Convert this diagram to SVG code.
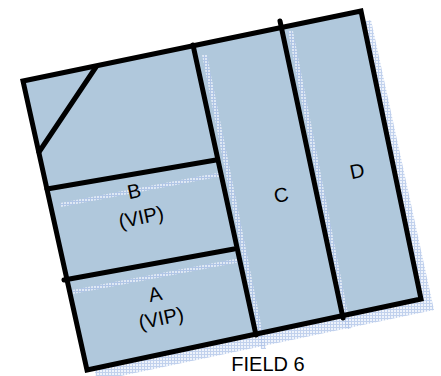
<svg xmlns="http://www.w3.org/2000/svg" width="441" height="376" viewBox="0 0 441 376">
  <style>
    .edge { fill: none; stroke: #000; stroke-width: 5; stroke-linecap: round; stroke-linejoin: miter; }
    .lbl { font-family: "Liberation Sans", Arial, sans-serif; font-size: 20px; fill: #000; text-anchor: middle; }
    .hatch { fill: url(#grid); stroke: none; }
  </style>
  <defs>
    <pattern id="grid" width="3" height="3" patternUnits="userSpaceOnUse">
      <rect width="3" height="3" fill="#eaf0fa"/>
      <path d="M0 0.5 H3 M0.5 0 V3" stroke="#8aa8de" stroke-width="1" opacity="0.6"/>
    </pattern>
  </defs>
  <rect width="441" height="376" fill="#fff"/>
  <g id="shadow">
    <polygon class="hatch" points="33,93 371,20 434,310 97,381" opacity="0.8"/>
  </g>
  <g id="field">
    <polygon points="23,81 361,11 421,299 87,370" fill="#b0c8dc"/>
  </g>
  <g id="strips" opacity="0.8">
    <polygon class="hatch" points="60,203 222,172 223,176 61,207"/>
    <polygon class="hatch" points="72,290 240,258 241,262 73,294"/>
    <polygon class="hatch" points="202,55 207,55 266,349 261,349"/>
    <polygon class="hatch" points="288,31 293,31 351,329 346,329"/>
  </g>
  <g id="connectors">
    <polygon class="edge" points="23,81 361,11 421,299 87,370"/>
    <line class="edge" x1="96" y1="67" x2="39" y2="152"/>
    <line class="edge" x1="47" y1="189" x2="216" y2="160"/>
    <line class="edge" x1="64" y1="280" x2="234" y2="249"/>
    <line class="edge" x1="193" y1="45" x2="256" y2="335"/>
    <line class="edge" x1="280" y1="21" x2="343" y2="318"/>
  </g>
  <g id="nodeB">
    <text class="lbl" transform="translate(134,191) rotate(-12)" y="7">B</text>
    <text class="lbl" transform="translate(141,217) rotate(-12)" y="7">(VIP)</text>
  </g>
  <g id="nodeA">
    <text class="lbl" transform="translate(155,294) rotate(-12)" y="7">A</text>
    <text class="lbl" transform="translate(161,318) rotate(-12)" y="7">(VIP)</text>
  </g>
  <g id="nodeC">
    <text class="lbl" transform="translate(281,195) rotate(-12)" y="7">C</text>
  </g>
  <g id="nodeD">
    <text class="lbl" transform="translate(357,171) rotate(-12)" y="7">D</text>
  </g>
  <g id="title">
    <text class="lbl" x="268" y="371">FIELD 6</text>
  </g>
</svg>
